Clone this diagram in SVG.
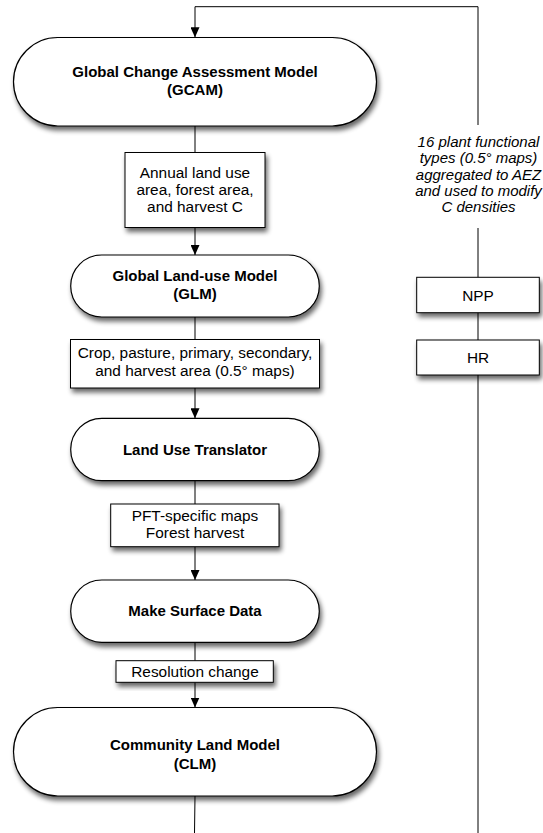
<svg xmlns="http://www.w3.org/2000/svg" width="543" height="833" viewBox="0 0 543 833">
  <defs>
    <filter id="shadow" x="-10%" y="-20%" width="130%" height="160%">
      <feGaussianBlur in="SourceAlpha" stdDeviation="2.5"/>
      <feOffset dx="2" dy="4" result="off"/>
      <feComponentTransfer><feFuncA type="linear" slope="0.6"/></feComponentTransfer>
      <feMerge><feMergeNode/><feMergeNode in="SourceGraphic"/></feMerge>
    </filter>
    <marker id="arrow" markerUnits="userSpaceOnUse" markerWidth="10" markerHeight="9" refX="10" refY="4.5" orient="auto" viewBox="0 0 10 9">
      <path d="M0,0 L10,4.5 L0,9 Z" fill="#000"/>
    </marker>
  </defs>
  <style>
    .term { fill: #fff; stroke: #000; stroke-width: 1.2; filter: url(#shadow); }
    .box { fill: #fff; stroke: #000; stroke-width: 1; filter: url(#shadow); }
    .conn { fill: none; stroke: #000; stroke-width: 1; }
    .bold { font-family: "Liberation Sans", Arial, Helvetica, sans-serif; font-size: 15px; font-weight: bold; text-anchor: middle; fill: #000; }
    .norm { font-family: "Liberation Sans", Arial, Helvetica, sans-serif; font-size: 15.4px; text-anchor: middle; fill: #000; }
    .ital { font-family: "Liberation Sans", Arial, Helvetica, sans-serif; font-size: 15px; font-style: italic; text-anchor: middle; fill: #000; }
  </style>
  <rect width="543" height="833" fill="#fff"/>

  <g id="connectors">
    <path class="conn" d="M195,126 V152.5"/>
    <path class="conn" d="M195,227.5 V255" marker-end="url(#arrow)"/>
    <path class="conn" d="M195,317 V339.5"/>
    <path class="conn" d="M195,388 V418.3" marker-end="url(#arrow)"/>
    <path class="conn" d="M195,480.7 V504"/>
    <path class="conn" d="M195,546.7 V580" marker-end="url(#arrow)"/>
    <path class="conn" d="M195,642.3 V660.7"/>
    <path class="conn" d="M195,682.3 V707.5" marker-end="url(#arrow)"/>
    <path class="conn" d="M195,796 L194.5,833"/>
    <path class="conn" d="M478,833 V375"/>
    <path class="conn" d="M478,340 V312.7"/>
    <path class="conn" d="M478,277.3 V228"/>
    <path class="conn" d="M478,125 V6.7 H195 V37.3" marker-end="url(#arrow)"/>
  </g>

  <g id="gcam">
    <rect class="term" x="13.5" y="37.5" width="363" height="88.5" rx="44.25" ry="44.25"/>
    <text class="bold" x="195" y="77">Global Change Assessment Model</text>
    <text class="bold" x="195" y="95">(GCAM)</text>
  </g>

  <g id="annual">
    <rect class="box" x="125" y="152.5" width="140" height="75"/>
    <text class="norm" x="195" y="177.5">Annual land use</text>
    <text class="norm" x="195" y="194.5">area, forest area,</text>
    <text class="norm" x="195" y="211.5">and harvest C</text>
  </g>

  <g id="glm">
    <rect class="term" x="70.7" y="255" width="248.6" height="62" rx="31" ry="31"/>
    <text class="bold" x="195" y="281">Global Land-use Model</text>
    <text class="bold" x="195" y="299">(GLM)</text>
  </g>

  <g id="crop">
    <rect class="box" x="70.5" y="339.5" width="249" height="48.5"/>
    <text class="norm" x="195" y="358">Crop, pasture, primary, secondary,</text>
    <text class="norm" x="195" y="375.5">and harvest area (0.5° maps)</text>
  </g>

  <g id="lut">
    <rect class="term" x="70.7" y="418.3" width="248.6" height="62.4" rx="31.2" ry="31.2"/>
    <text class="bold" x="195" y="454.5">Land Use Translator</text>
  </g>

  <g id="pft">
    <rect class="box" x="110.7" y="504" width="168.3" height="42.7"/>
    <text class="norm" x="195" y="520.7">PFT-specific maps</text>
    <text class="norm" x="195" y="538.3">Forest harvest</text>
  </g>

  <g id="msd">
    <rect class="term" x="70.7" y="580" width="248.6" height="62.3" rx="31.15" ry="31.15"/>
    <text class="bold" x="195" y="616">Make Surface Data</text>
  </g>

  <g id="res">
    <rect class="box" x="116" y="660.7" width="157.3" height="21.6"/>
    <text class="norm" x="195" y="676.5">Resolution change</text>
  </g>

  <g id="clm">
    <rect class="term" x="13.5" y="707.5" width="363" height="88.5" rx="44.25" ry="44.25"/>
    <text class="bold" x="195" y="750">Community Land Model</text>
    <text class="bold" x="195" y="768.5">(CLM)</text>
  </g>

  <g id="pft-label">
    <text class="ital" x="478.5" y="146.7">16 plant functional</text>
    <text class="ital" x="478.5" y="163.1">types (0.5° maps)</text>
    <text class="ital" x="478.5" y="179.5">aggregated to AEZ</text>
    <text class="ital" x="478.5" y="195.9">and used to modify</text>
    <text class="ital" x="478.5" y="212.3">C densities</text>
  </g>

  <g id="npp">
    <rect class="box" x="416.7" y="277.3" width="122.6" height="35.4"/>
    <text class="norm" x="478" y="300.5">NPP</text>
  </g>

  <g id="hr">
    <rect class="box" x="416.7" y="340" width="122.6" height="35"/>
    <text class="norm" x="478" y="362.5">HR</text>
  </g>
</svg>
